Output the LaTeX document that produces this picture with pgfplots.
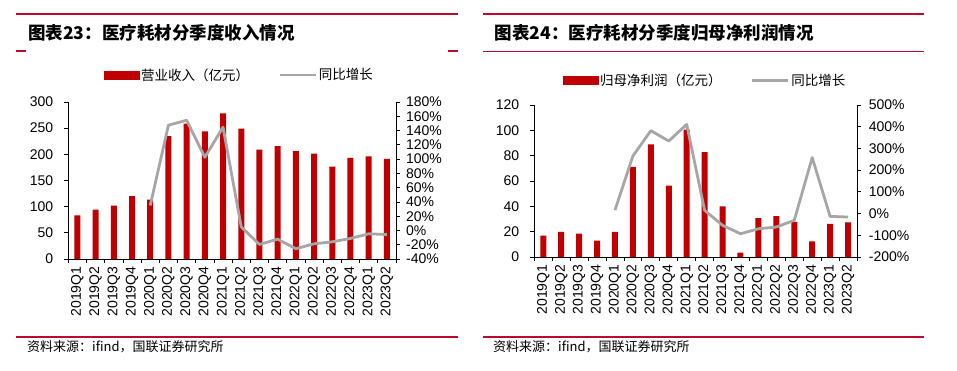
\documentclass[border=0pt]{standalone}
\usepackage{fontspec}
\setmainfont{Liberation Sans}
\newfontfamily\cjk{Noto Sans CJK SC}
\usepackage{pgfplots}
\pgfplotsset{compat=1.18}
\definecolor{barred}{RGB}{192,0,0}
\definecolor{linegray}{RGB}{166,166,166}
\definecolor{rulered}{RGB}{190,8,50}

\pgfplotsset{
  base/.style={
    scale only axis, anchor=south west,
    xmin=-0.5, xmax=17.5,
    tick align=outside,
    ticklabel style={font=\fontsize{14}{14}\selectfont},
    /pgf/number format/assume math mode=true,
    tick style={black, line width=0.8pt},
    axis line style={black, line width=0.8pt},
    major tick length=4pt, minor tick length=4pt,
  },
  barax/.style={
    base, axis x line*=bottom, axis y line*=left,
    xtick={0,...,17},
    xticklabels={2019Q1,2019Q2,2019Q3,2019Q4,2020Q1,2020Q2,2020Q3,2020Q4,2021Q1,2021Q2,2021Q3,2021Q4,2022Q1,2022Q2,2022Q3,2022Q4,2023Q1,2023Q2},
    xticklabel style={rotate=90, anchor=east},
    major x tick style={draw=none},
    minor xtick={-0.5,0.5,...,17.5},
    yticklabel style={xshift=-7.5pt},
    ybar, bar width=6pt,
  },
  lineax/.style={
    base, axis y line*=right, axis x line=none,
    yticklabel={\pgfmathprintnumber{\tick}\%},
    legend style={draw=none, fill=none, anchor=center, legend columns=2,
      font=\cjk\fontsize{13.5}{15}\selectfont,
      /tikz/every even column/.append style={column sep=27pt}},
    legend cell align=left,
  },
  barleg/.style={legend image code/.code={\fill[barred] (0pt,-4pt) rectangle (35pt,4pt);}},
  lineleg/.style={legend image code/.code={\draw[linegray,line width=2.8pt] (0pt,0pt) -- (36pt,0pt);}},
}

\begin{document}
\begin{tikzpicture}
\useasboundingbox (0,0) rectangle (957pt,370pt);

% ---------- decorations ----------
\begin{scope}[rulered, line width=1.2pt]
\draw (16pt,356pt) -- (458pt,356pt);
\draw (16pt,319pt) -- (26pt,319pt);
\draw (448pt,319pt) -- (458pt,319pt);
\draw (16pt,33pt) -- (458pt,33pt);
\draw (483pt,356pt) -- (924pt,356pt);
\draw (483pt,318.5pt) -- (924pt,318.5pt);
\draw (483pt,33pt) -- (924pt,33pt);
\end{scope}

\node[anchor=west, inner sep=0pt, font=\cjk\bfseries\fontsize{17.5}{17.5}\selectfont] at (28pt,337pt) {图表23：医疗耗材分季度收入情况};
\node[anchor=west, inner sep=0pt, font=\cjk\bfseries\fontsize{17.5}{17.5}\selectfont] at (494.7pt,337pt) {图表24：医疗耗材分季度归母净利润情况};

\node[anchor=west, inner sep=0pt, font=\cjk\fontsize{13}{13}\selectfont] at (27pt,23pt) {资料来源：ifind，国联证券研究所};
\node[anchor=west, inner sep=0pt, font=\cjk\fontsize{13}{13}\selectfont] at (493pt,23pt) {资料来源：ifind，国联证券研究所};

% ---------- left chart ----------
\begin{axis}[barax, at={(68.3pt,111pt)}, width=327.7pt, height=157pt,
  ymin=0, ymax=300, ytick={0,50,...,300}]
\addplot[fill=barred, draw=none] coordinates {
(0,83.5) (1,94.3) (2,101.9) (3,120.3) (4,113.3) (5,234.8) (6,258.9) (7,243.7) (8,278.5)
(9,249) (10,208.9) (11,215.8) (12,206.3) (13,201.3) (14,176.6) (15,193) (16,196.2) (17,191.1)};
\end{axis}
\begin{axis}[lineax, at={(68.3pt,111pt)}, width=327.7pt, height=157pt,
  ymin=-40, ymax=180, ytick={-40,-20,...,180},
  yticklabel style={xshift=2.6pt},
  legend style={at={(0.522,1.172)}}]
\addlegendimage{barleg}
\addlegendentry{营业收入（亿元）}
\addplot[linegray, line width=2.8pt, line join=round, lineleg] coordinates {
(4,35) (5,147.5) (6,154.4) (7,102.5) (8,144.7) (9,5) (10,-19.6) (11,-12.2) (12,-25.6)
(13,-18.7) (14,-15.9) (15,-11.2) (16,-4.7) (17,-5.7)};
\addlegendentry{同比增长}
\end{axis}

% ---------- right chart ----------
\begin{axis}[barax, at={(534.3pt,113pt)}, width=322.7pt, height=152pt,
  ymin=0, ymax=120, ytick={0,20,...,120}]
\addplot[fill=barred, draw=none] coordinates {
(0,16.8) (1,19.9) (2,18.4) (3,12.9) (4,19.9) (5,71.1) (6,89) (7,56.4) (8,100.5)
(9,82.8) (10,39.9) (11,3.4) (12,30.7) (13,32.3) (14,27.8) (15,12.3) (16,26.2) (17,27.3)};
\end{axis}
\begin{axis}[lineax, at={(534.3pt,113pt)}, width=322.7pt, height=152pt,
  ymin=-200, ymax=500, ytick={-200,-100,...,500},
  yticklabel style={xshift=4.3pt},
  legend style={at={(0.529,1.16)}}]
\addlegendimage{barleg}
\addlegendentry{归母净利润（亿元）}
\addplot[linegray, line width=2.8pt, line join=round, lineleg] coordinates {
(4,16) (5,265) (6,382) (7,334) (8,411) (9,15) (10,-54) (11,-93) (12,-70)
(13,-62) (14,-31) (15,258) (16,-13) (17,-16)};
\addlegendentry{同比增长}
\end{axis}
\end{tikzpicture}
\end{document}
